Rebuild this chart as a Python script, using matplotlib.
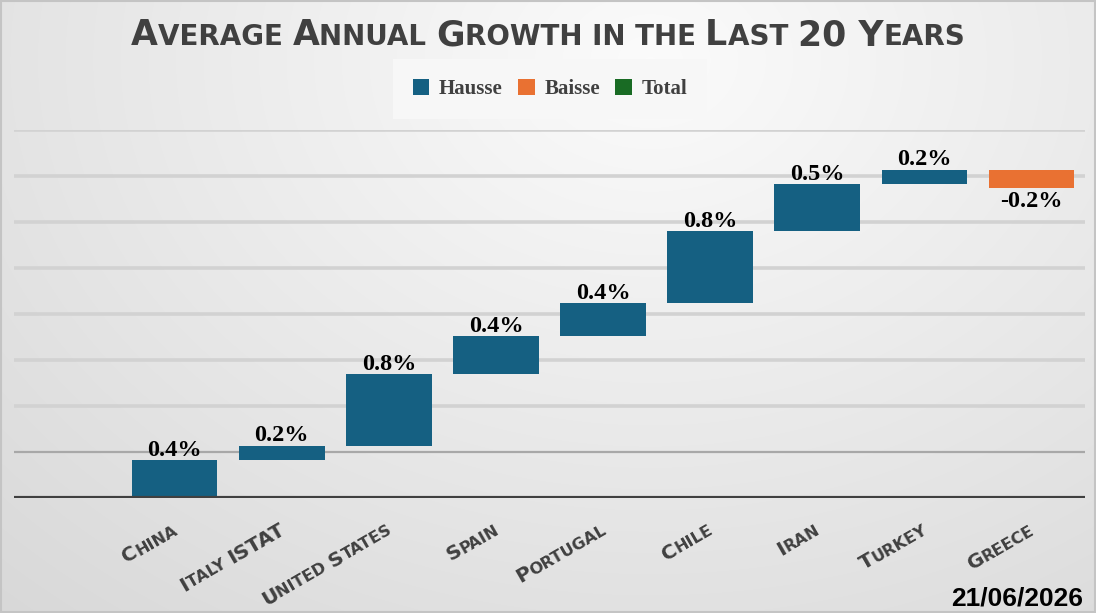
import numpy as np
import matplotlib
matplotlib.use('Agg')
import matplotlib.pyplot as plt
from matplotlib.transforms import offset_copy, blended_transform_factory
from matplotlib.patches import Patch, Rectangle

# data (percent per year)
categories = ['China', 'Italy ISTAT', 'United States', 'Spain', 'Portugal',
              'Chile', 'Iran', 'Turkey', 'Greece']
growth = [0.41, 0.16, 0.78, 0.41, 0.36, 0.78, 0.51, 0.16, -0.20]
series = ['Hausse', 'Baisse', 'Total']
series_colors = ['#156082', '#E97132', '#196B24']

title = 'Average Annual Growth in the Last 20 Years'
date_txt = '21/06/2026'

W, H, DPI = 10.96, 6.13, 100
fig = plt.figure(figsize=(W, H), dpi=DPI)

# background: soft radial gradient, light near the title
bg = fig.add_axes([0, 0, 1, 1], zorder=-10)
px_x, px_y = np.meshgrid(np.arange(1096), np.arange(613))
d = np.sqrt((px_x - 650) ** 2 + ((px_y - 60) * 1.3) ** 2)
shade = np.clip(0.985 - 0.000142 * d, 0.82, 1.0)
bg.imshow(np.dstack([shade] * 3), aspect='auto', extent=[0, 1, 0, 1])
bg.set_xlim(0, 1)
bg.set_ylim(0, 1)
bg.axis('off')
fig.patches.append(Rectangle((0.001, 0.001), 0.998, 0.997, transform=fig.transFigure,
                             fill=False, edgecolor='#c4c4c4', lw=1.5))

ax = fig.add_axes([14 / 1096, 1 - 498 / 613, 1071 / 1096, 368 / 613])
ax.patch.set_alpha(0)

# waterfall bars
vals = np.array(growth)
ends = np.cumsum(vals)
starts = ends - vals
x = np.arange(len(categories))
cols = [series_colors[0] if v >= 0 else series_colors[1] for v in vals]
ax.bar(x, vals, bottom=starts, width=0.8, color=cols, zorder=3)

for xi, s, e, v in zip(x, starts, ends, vals):
    lab = '{:.1f}%'.format(v)
    if v >= 0:
        ax.annotate(lab, (xi, e), xytext=(0, 3), textcoords='offset points',
                    ha='center', va='baseline', fontsize=17.5, fontweight='bold',
                    family='Liberation Serif', color='black', zorder=4)
    else:
        ax.annotate(lab, (xi, e), xytext=(0, -2), textcoords='offset points',
                    ha='center', va='top', fontsize=17.5, fontweight='bold',
                    family='Liberation Serif', color='black', zorder=4)

ax.set_xlim(-1.5, 8.5)
ax.set_ylim(0, 4)
for g in np.arange(0.5, 4.01, 0.5):
    if g == 0.5:
        ax.axhline(g, color='#a8a8a8', lw=1.6, zorder=1)
    else:
        ax.axhline(g, color='#d2d2d2', lw=2.6, zorder=1)
ax.axhline(0, color='#404040', lw=3, zorder=5)
for sp in ax.spines.values():
    sp.set_visible(False)
ax.set_xticks([])
ax.set_yticks([])


def split_caps(s):
    # runs of (text, is_big) for fake small caps
    runs = []
    for ch in s:
        big = not ch.islower()
        if ch == ' ':
            big = runs[-1][1] if runs else True
        if runs and runs[-1][1] == big:
            runs[-1][0] += ch
        else:
            runs.append([ch, big])
    return runs


def smallcaps(x0, y0, s, size, transform, rot=0, ha='center', dx=0, dy=0,
              color='#404040', family='DejaVu Sans', scale=0.8):
    r = fig.canvas.get_renderer()
    runs = split_caps(s)
    widths = []
    for txt, big in runs:
        fs = size if big else size * scale
        t = fig.text(0, 0, txt.upper().replace(' ', '\u00a0'), fontsize=fs,
                     fontweight='bold', family=family)
        widths.append(t.get_window_extent(r).width)
        t.remove()
    total = sum(widths)
    pos = {'center': -total / 2, 'right': -total, 'left': 0}[ha]
    th = np.deg2rad(rot)
    for (txt, big), w in zip(runs, widths):
        fs = size if big else size * scale
        tr = offset_copy(transform, fig=fig, x=dx + pos * np.cos(th),
                         y=dy + pos * np.sin(th), units='dots')
        fig.text(x0, y0, txt.upper().replace(' ', '\u00a0'), transform=tr,
                 rotation=rot, rotation_mode='anchor', ha='left', va='baseline',
                 fontsize=fs, fontweight='bold', family=family, color=color)
        pos += w


# title
smallcaps(0.5, 1 - 45 / 613, title, 25, fig.transFigure, ha='center', scale=0.8)

# category labels, rotated
trans = blended_transform_factory(ax.transData, ax.transAxes)
for xi, name in zip(x, categories):
    smallcaps(xi, 0, name, 14.5, trans, rot=30, ha='right', dx=4, dy=-35, scale=0.8)

# legend
handles = [Patch(facecolor=c, edgecolor='none') for c in series_colors]
leg = fig.legend(handles, series, loc='center', bbox_to_anchor=(550 / 1096, 1 - 89 / 613),
                 ncol=3, frameon=True, fancybox=False, framealpha=1,
                 facecolor='#f7f7f7', edgecolor='none', handlelength=0.8,
                 handleheight=0.8, handletextpad=0.45, columnspacing=0.75,
                 borderpad=0.95, prop={'family': 'Liberation Serif', 'weight': 'bold', 'size': 15})
for t in leg.get_texts():
    t.set_color('#404040')

fig.text(1 - 13 / 1096, 3 / 613, date_txt, ha='right', va='bottom', fontsize=19,
         fontweight='bold', family='Liberation Sans', color='black')

fig.savefig('out.png', dpi=DPI)
